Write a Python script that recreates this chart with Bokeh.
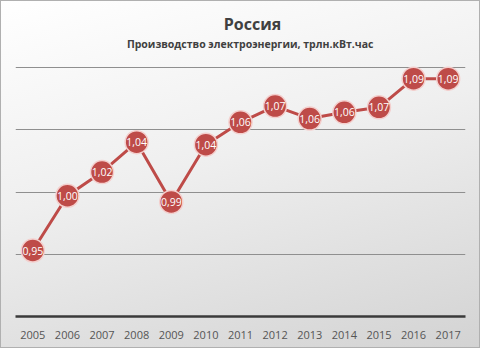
from bokeh.plotting import figure
from bokeh.models import FactorRange, Range1d, Label, ColumnDataSource, FixedTicker
from bokeh.core.properties import value
from bokeh.embed import file_html
from bokeh.resources import INLINE

years = ["2005", "2006", "2007", "2008", "2009", "2010", "2011",
         "2012", "2013", "2014", "2015", "2016", "2017"]
production = [0.953, 0.997, 1.016, 1.040, 0.992, 1.038, 1.056,
              1.069, 1.059, 1.064, 1.068, 1.091, 1.091]
labels = [f"{round(v, 2):.2f}".replace(".", ",") for v in production]
grid_ticks = [0.95, 1.00, 1.05, 1.10]

title_text = "Россия"
subtitle_text = "Производство  электроэнергии, трлн.кВт.час"

FONT = "Open Sans"
RED = "#BE4B48"

# frame spans the whole height above the axis (316 px); value band 0.9..1.1 spans 249 px
y_end = 0.9 + 0.2 * 316 / 249

p = figure(
    width=480, height=348,
    x_range=FactorRange(factors=years, range_padding=0),
    y_range=Range1d(0.9, y_end),
    output_backend="svg", toolbar_location=None, title=None,
    min_border_left=15, min_border_right=15, min_border_top=0, min_border_bottom=32,
    styles={"background": "linear-gradient(165deg, #ffffff 0%, #efefef 45%, #d3d3d3 100%)",
            "box-shadow": "inset 0 0 0 1px #b0b0b0"},
)
p.background_fill_alpha = 0
p.border_fill_alpha = 0
p.outline_line_color = None

p.add_layout(Label(x=237, y=293, x_units="screen", y_units="screen",
                   text=title_text, text_align="center", text_baseline="middle",
                   text_font=FONT, text_font_size="16px", text_font_style="bold",
                   text_color="#404040"))
p.add_layout(Label(x=236, y=273, x_units="screen", y_units="screen",
                   text=subtitle_text, text_align="center", text_baseline="middle",
                   text_font=FONT, text_font_size="10.5px", text_font_style="bold",
                   text_color="#404040"))

src = ColumnDataSource(dict(x=years, y=production, t=labels))

p.line("x", "y", source=src, line_color=RED, line_width=3)
p.scatter("x", "y", source=src, size=23, fill_color=RED,
          line_color="#F4CFCD", line_width=1.5)
p.text("x", "y", text="t", source=src, text_color="white",
       text_font=value(FONT), text_font_size="10.5px",
       text_align="center", text_baseline="middle")

p.yaxis.visible = False
p.ygrid.ticker = FixedTicker(ticks=grid_ticks)
p.ygrid.grid_line_color = "#8f8f8f"
p.ygrid.grid_line_width = 1
p.xgrid.grid_line_color = None

ax = p.xaxis[0]
ax.axis_line_color = "#3a3a3a"
ax.axis_line_width = 2.5
ax.major_tick_line_color = None
ax.minor_tick_line_color = None
ax.major_label_text_font = FONT
ax.major_label_text_font_size = "11px"
ax.major_label_text_color = "#555555"
ax.major_label_standoff = 8

open("out.html", "w").write(file_html(p, INLINE))
